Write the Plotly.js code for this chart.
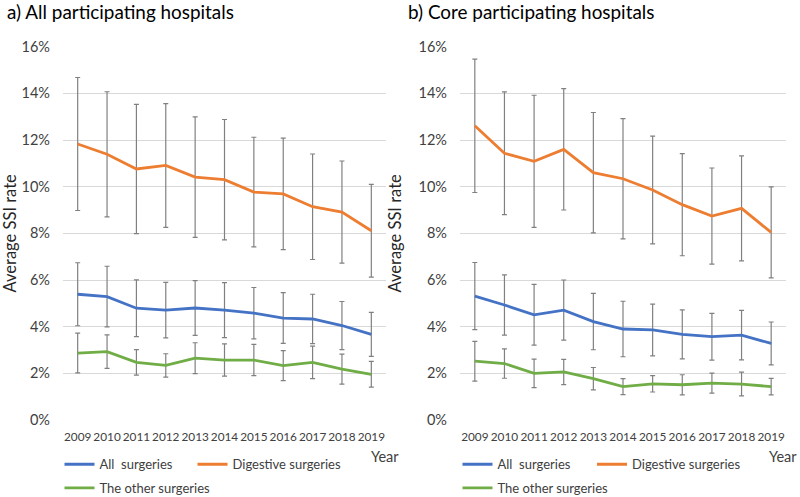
<!DOCTYPE html>
<html>
<head>
<meta charset="utf-8">
<script src="https://cdn.plot.ly/plotly-3.0.1.min.js"></script>
<style>html,body{margin:0;padding:0;background:#fff;overflow:hidden;}#chart{width:800px;height:497px;}</style>
</head>
<body>
<div id="chart"></div>
<script>
// ---- Data (percent) ----
const years = ['2009','2010','2011','2012','2013','2014','2015','2016','2017','2018','2019'];

// a) All participating hospitals
const allA      = [5.39, 5.29, 4.79, 4.71, 4.80, 4.71, 4.58, 4.37, 4.33, 4.05, 3.67];
const allA_err  = [1.35, 1.30, 1.22, 1.19, 1.17, 1.18, 1.10, 1.09, 1.06, 1.03, 0.94];
const digA      = [11.83, 11.39, 10.76, 10.91, 10.41, 10.30, 9.77, 9.69, 9.14, 8.91, 8.11];
const digA_err  = [2.85, 2.68, 2.77, 2.65, 2.58, 2.58, 2.35, 2.39, 2.26, 2.19, 1.99];
const othA      = [2.87, 2.93, 2.47, 2.34, 2.65, 2.57, 2.57, 2.33, 2.47, 2.18, 1.96];
const othA_err  = [0.85, 0.72, 0.55, 0.50, 0.66, 0.69, 0.67, 0.64, 0.70, 0.64, 0.55];

// b) Core participating hospitals
const allB      = [5.31, 4.93, 4.51, 4.71, 4.22, 3.90, 3.86, 3.67, 3.57, 3.64, 3.28];
const allB_err  = [1.44, 1.29, 1.30, 1.29, 1.21, 1.19, 1.11, 1.05, 1.00, 1.06, 0.92];
const digB      = [12.61, 11.43, 11.09, 11.60, 10.60, 10.34, 9.86, 9.23, 8.74, 9.07, 8.04];
const digB_err  = [2.86, 2.63, 2.83, 2.60, 2.58, 2.58, 2.31, 2.19, 2.06, 2.25, 1.95];
const othB      = [2.52, 2.42, 2.00, 2.06, 1.77, 1.43, 1.55, 1.51, 1.58, 1.54, 1.43];
const othB_err  = [0.85, 0.63, 0.61, 0.54, 0.48, 0.34, 0.35, 0.43, 0.43, 0.51, 0.35];

const seriesNames = ['All\u00a0 surgeries', 'Digestive surgeries', 'The other surgeries'];
const panelTitles = ['a) All participating hospitals', 'b) Core participating hospitals'];
const yTicks = [0, 2, 4, 6, 8, 10, 12, 14, 16];
const yTickText = ['0%', '2%', '4%', '6%', '8%', '10%', '12%', '14%', '16%'];

// ---- Styles ----
const FONT = 'Lato, "Open Sans", sans-serif';
const colors = ['#4472C4', '#ED7D31', '#70AD47'];
const W = 800, H = 497;
const px = v => v / W;
const py = v => (H - v) / H;

function trace(y, err, i, xa, ya, leg) {
  return {
    type: 'scatter', mode: 'lines', x: years, y: y,
    name: seriesNames[i], xaxis: xa, yaxis: ya, legend: leg,
    line: {color: colors[i], width: 2.8},
    error_y: {type: 'data', array: err, visible: true, color: '#808080', thickness: 1.2, width: 2.5},
    hoverinfo: 'x+y'
  };
}

const data = [
  trace(allA, allA_err, 0, 'x', 'y', 'legend'),
  trace(digA, digA_err, 1, 'x', 'y', 'legend2'),
  trace(othA, othA_err, 2, 'x', 'y', 'legend3'),
  trace(allB, allB_err, 0, 'x2', 'y2', 'legend4'),
  trace(digB, digB_err, 1, 'x2', 'y2', 'legend5'),
  trace(othB, othB_err, 2, 'x2', 'y2', 'legend6')
];

const yDomain = [py(420), py(46.7)];
function xAxis(domain) {
  return {
    domain: domain, type: 'category', range: [-0.5, 10.5],
    showgrid: false, showline: false, zeroline: false, ticks: '',
    tickangle: 0,
    tickfont: {family: FONT, size: 11.8, color: '#404040'},
    ticklabelstandoff: 8, automargin: false, fixedrange: true
  };
}
function yAxis(domain, anchor) {
  return {
    domain: domain, anchor: anchor, range: [0, 16],
    tickmode: 'array', tickvals: yTicks, ticktext: yTickText,
    showgrid: true, gridcolor: '#d9d9d9', gridwidth: 1,
    showline: false, zeroline: false, ticks: '',
    tickfont: {family: FONT, size: 14.5, color: '#404040'},
    ticklabelstandoff: 12, automargin: false, fixedrange: true,
    title: {text: 'Average SSI rate', font: {family: FONT, size: 16.5, color: '#262626'}, standoff: 12}
  };
}

function legendAt(x, y) {
  return {
    x: px(x), xanchor: 'left', y: py(y), yanchor: 'middle',
    orientation: 'h', bgcolor: 'rgba(0,0,0,0)', borderwidth: 0,
    font: {family: FONT, size: 13, color: '#404040'},
    itemclick: false, itemdoubleclick: false
  };
}

const layout = {
  width: W, height: H, autosize: false,
  margin: {l: 0, r: 0, t: 0, b: 0, pad: 0, autoexpand: false},
  paper_bgcolor: '#fff', plot_bgcolor: '#fff',
  showlegend: true,
  font: {family: FONT},
  xaxis: xAxis([px(63), px(386)]),
  yaxis: yAxis(yDomain, 'x'),
  xaxis2: Object.assign(xAxis([px(460), px(786)]), {anchor: 'y2'}),
  yaxis2: yAxis(yDomain, 'x2'),
  legend: legendAt(59.5, 464.3),
  legend2: legendAt(192.5, 464.3),
  legend3: legendAt(59.5, 488),
  legend4: legendAt(457.5, 464.3),
  legend5: legendAt(592, 464.3),
  legend6: legendAt(457.5, 488),
  annotations: [
    {text: panelTitles[0], xref: 'paper', yref: 'paper', x: px(5), y: py(11), xanchor: 'left', yanchor: 'middle', showarrow: false, font: {family: FONT, size: 18.9, color: '#000'}},
    {text: panelTitles[1], xref: 'paper', yref: 'paper', x: px(406), y: py(11), xanchor: 'left', yanchor: 'middle', showarrow: false, font: {family: FONT, size: 18.9, color: '#000'}},
    {text: 'Year', xref: 'paper', yref: 'paper', x: px(385), y: py(456), xanchor: 'center', yanchor: 'middle', showarrow: false, font: {family: FONT, size: 14.5, color: '#404040'}},
    {text: 'Year', xref: 'paper', yref: 'paper', x: px(783), y: py(456), xanchor: 'center', yanchor: 'middle', showarrow: false, font: {family: FONT, size: 14.5, color: '#404040'}}
  ]
};

Plotly.newPlot('chart', data, layout, {staticPlot: true, displayModeBar: false});
</script>
</body>
</html>
